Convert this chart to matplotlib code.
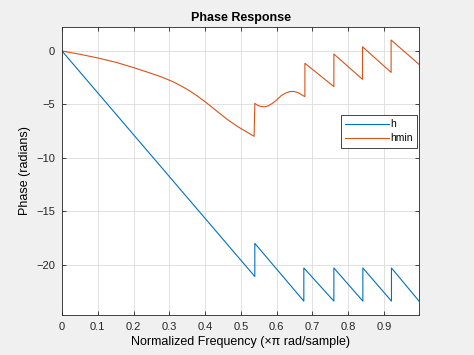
import matplotlib
matplotlib.use("Agg")
import matplotlib.pyplot as plt

# Normalized frequency (x pi rad/sample) breakpoints
h_freq = [0, 0.539, 0.539, 0.676, 0.676, 0.760, 0.760, 0.841, 0.841,
          0.921, 0.921, 0.998]
h_phase = [0, -21.1, -18.0, -23.4, -20.3, -23.4, -20.3, -23.4, -20.3,
           -23.4, -20.3, -23.4]

hmin_freq = [0, 0.05, 0.1, 0.15, 0.2, 0.25, 0.28, 0.31, 0.335, 0.358, 0.38,
             0.404, 0.43, 0.46, 0.49, 0.515, 0.537,
             0.539, 0.548, 0.558, 0.567, 0.577, 0.588, 0.6, 0.612, 0.624,
             0.636, 0.648, 0.66, 0.67, 0.679,
             0.679, 0.760, 0.760, 0.840, 0.840, 0.920, 0.920, 0.998]
hmin_phase = [0, -0.3, -0.65, -1.05, -1.55, -2.1, -2.45, -2.87, -3.3, -3.75, -4.25,
              -4.85, -5.55, -6.35, -7.05, -7.55, -7.98,
              -4.9, -5.1, -5.2, -5.22, -5.12, -4.9, -4.58, -4.2, -3.95,
              -3.8, -3.78, -3.9, -4.1, -4.27,
              -1.15, -3.33, -0.28, -2.65, 0.40, -2.0, 1.03, -1.25]

xticks = [0, 0.1, 0.2, 0.3, 0.4, 0.5, 0.6, 0.7, 0.8, 0.9]
xtick_labels = ['0', '0.1', '0.2', '0.3', '0.4', '0.5', '0.6', '0.7', '0.8', '0.9']
yticks = [-20, -15, -10, -5, 0]

plt.rcParams['font.family'] = ['Liberation Sans', 'DejaVu Sans']

fig = plt.figure(figsize=(4.74, 3.55), dpi=100, facecolor='#f0f0f0')
ax = fig.add_axes([0.1308, 0.1127, 0.7532, 0.8113])
ax.set_facecolor('white')

ax.plot(h_freq, h_phase, color='#0072BD', lw=0.8, label='h')
ax.plot(hmin_freq, hmin_phase, color='#D95319', lw=0.8, label='hmin')

ax.set_xlim(0, 0.998)
ax.set_ylim(-24.7, 2.25)
ax.set_xticks(xticks)
ax.set_xticklabels(xtick_labels)
ax.set_yticks(yticks)
ax.tick_params(direction='in', length=3, width=0.6, labelsize=8,
               top=True, right=True, colors='#262626', pad=5)
ax.grid(True, color='#dcdcdc', lw=0.6)
ax.set_axisbelow(True)
for s in ax.spines.values():
    s.set_color('#262626')
    s.set_linewidth(0.6)

ax.set_title('Phase Response', fontsize=9, fontweight='bold', pad=4)
ax.set_xlabel('Normalized Frequency (\u00d7\u03c0 rad/sample)', fontsize=9, labelpad=3)
ax.set_ylabel('Phase (radians)', fontsize=9, labelpad=4)

leg = ax.legend(loc='upper right', bbox_to_anchor=(0.994, 0.694),
                borderaxespad=0, fontsize=7.5, handlelength=4.2,
                handletextpad=0.1, fancybox=False, framealpha=1,
                edgecolor='#262626', borderpad=0.4, labelspacing=0.4)
leg.get_frame().set_linewidth(0.6)

fig.savefig('out.png', dpi=100, facecolor=fig.get_facecolor())
